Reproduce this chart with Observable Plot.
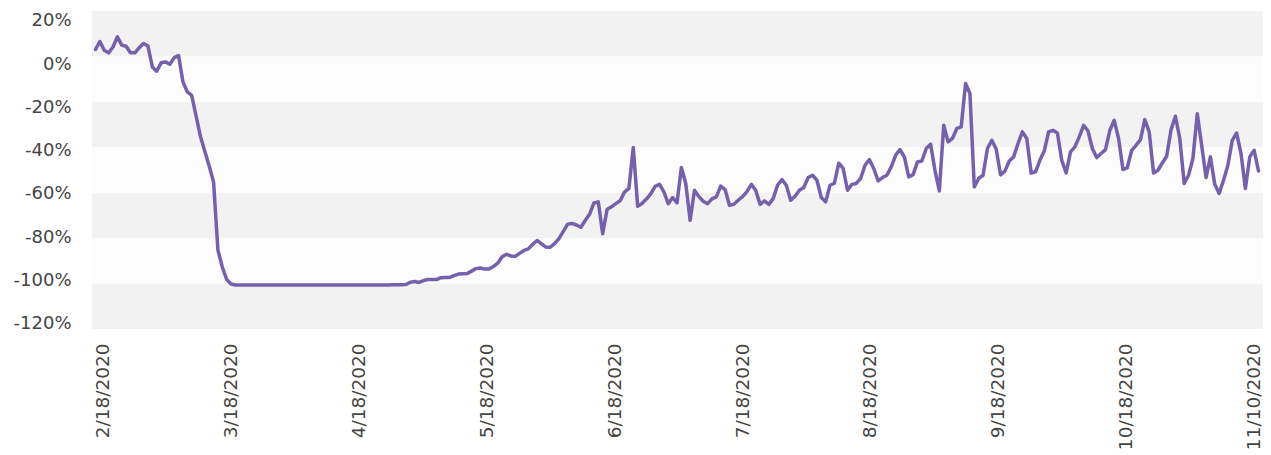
<!DOCTYPE html>
<html>
<head>
<meta charset="utf-8">
<script src="https://cdn.jsdelivr.net/npm/d3@7"></script>
<script src="https://cdn.jsdelivr.net/npm/@observablehq/plot@0.6"></script>
<style>
  html, body { margin: 0; padding: 0; background: #ffffff; }
  #chart svg { display: block; }
</style>
</head>
<body>
<div id="chart"></div>
<script>
// Daily % change, one value per day from 2/18/2020 to 11/10/2020
const change = [
  3.3, 6.8, 2.9, 1.8, 4.4, 8.8, 5.2, 4.7, 1.8, 1.8,
  4.1, 5.9, 4.8, -4.4, -6.3, -2.6, -2.2, -3.2, -0.3, 0.6,
  -11, -15.4, -16.9, -26, -35, -41.5, -48, -55, -85, -92.5,
  -98, -100,
  -100.4, -100.4, -100.4, -100.4, -100.4, -100.4, -100.4, -100.4, -100.4, -100.4,
  -100.4, -100.4, -100.4, -100.4, -100.4, -100.4, -100.4, -100.4, -100.4, -100.4,
  -100.4, -100.4, -100.4, -100.4, -100.4, -100.4, -100.4, -100.4, -100.4, -100.4,
  -100.4, -100.4, -100.4, -100.4, -100.4, -100.4, -100.3, -100.3, -100.3,
  -100.2, -99.2, -98.9, -99.3, -98.5, -98, -98, -98, -97.2, -97.1,
  -97.1, -96.3, -95.6, -95.5, -95.4, -94.3, -93.2, -92.9, -93.4, -93.4,
  -92.3, -90.8, -88, -86.9, -87.6, -87.8, -86.5, -85.2, -84.5, -82.5,
  -80.8, -82.3, -83.7, -83.8, -82.2, -80, -76.8, -73.6, -73.3, -74,
  -75, -72, -69.3, -64.3, -63.8, -77.8, -67.2, -66, -64.6, -63.3,
  -59.5, -57.9, -39.9, -65.7, -64.5, -62.6, -60.3, -57, -56.1, -59.4,
  -64.6, -61.9, -64.3, -48.7, -55.7, -71.9, -58.7, -61.5, -63.5, -64.6,
  -62.5, -61.6, -56.9, -58.4, -65.3, -64.9, -63.1, -61.5, -59.3, -56.1,
  -58.7, -64.9, -63.4, -64.9, -62.4, -56.5, -54, -56.5, -63.1, -61.3,
  -58.7, -57.5, -53.1, -52.1, -54.3, -61.9, -63.8, -56.5, -55.6, -46.8,
  -49.1, -58.7, -56.1, -55.7, -53.5, -47.7, -45.2, -49.1, -54.6, -53.1,
  -52.1, -48.4, -43.3, -40.8, -44, -52.8, -51.8, -46.2, -45.8, -40.3,
  -38.4, -49.9, -59, -30.1, -37.4, -35.9, -31.5, -30.8, -11.7, -16.1,
  -57.2, -53.5, -52.1, -40.3, -36.7, -40.5, -51.9, -50.3, -45.8, -44,
  -38.1, -33, -35.9, -51.1, -50.6, -45.5, -41.4, -33, -32.3, -33.5,
  -45.5, -51.1, -41.8, -39.6, -35.2, -30.1, -32.6, -40.3, -44.3, -42.5,
  -40.8, -32.3, -27.9, -35.9, -49.6, -48.7, -41.1, -38.9, -36.4, -27.6,
  -33, -51.1, -49.9, -46.7, -43.7, -32, -26.1, -35.9, -55.7, -52.1,
  -44.7, -25, -38.9, -53.1, -44, -56.1, -60.1, -54.3, -47.7, -36.7,
  -33.5, -42.5, -57.9, -44, -41.1, -50.2
];

// Category labels shown on the x axis (evenly spaced along the series)
const xTickLabels = [
  "2/18/2020", "3/18/2020", "4/18/2020", "5/18/2020", "6/18/2020",
  "7/18/2020", "8/18/2020", "9/18/2020", "10/18/2020", "11/10/2020"
];

// y axis tick values and labels
const yTickValues = [20, 0, -20, -40, -60, -80, -100, -120];
const yTickLabels = ["20%", "0%", "-20%", "-40%", "-60%", "-80%", "-100%", "-120%"];

// Background bands (alternating shading between gridlines)
const bandTops = [20, 0, -20, -40, -60, -80, -100];

// ---- build the chart ----
const rows = change.map((v, i) => ({ i, v }));
const n = change.length;

const bands = bandTops.map((top, k) => ({ hi: top, lo: top - 20, shade: k % 2 === 0 }));

// label positions along the category index
const xFirst = 1.8, xLast = n - 2;
const xTickPos = xTickLabels.map((_, k) => xFirst + k * (xLast - xFirst) / (xTickLabels.length - 1));
const xLabelAt = new Map(xTickPos.map((p, k) => [p, xTickLabels[k]]));

// y labels sit slightly compressed relative to the bands, as in the original
const yTickPos = yTickValues.map(v => 0.953 * v - 3.0);
const yLabelAt = new Map(yTickPos.map((p, k) => [p, yTickLabels[k]]));

const chart = Plot.plot({
  width: 1271,
  height: 455,
  marginLeft: 92,
  marginRight: 8,
  marginTop: 11,
  marginBottom: 126,
  style: { fontFamily: "DejaVu Sans, sans-serif", fontSize: "18px", color: "#444444", background: "#ffffff" },
  x: { type: "linear", domain: [0, n - 1], insetLeft: 3, insetRight: 5, label: null },
  y: { domain: [-120, 20], label: null },
  marks: [
    Plot.rect(bands.filter(d => d.shade), { y1: "lo", y2: "hi", fill: "#f2f2f2" }),
    Plot.rect(bands.filter(d => !d.shade), { y1: "lo", y2: "hi", fill: "#fcfcfc" }),
    Plot.lineY(rows, { x: "i", y: "v", stroke: "#7660ab", strokeWidth: 3.5, strokeLinejoin: "round" }),
    Plot.axisX({
      ticks: xTickPos,
      tickFormat: d => xLabelAt.get(d),
      tickRotate: -90,
      tickSize: 0,
      tickPadding: 14,
      fontSize: 18.5,
      label: null
    }),
    Plot.axisY({
      ticks: yTickPos,
      tickFormat: d => yLabelAt.get(d),
      tickSize: 0,
      tickPadding: 21,
      fontSize: 18,
      label: null
    })
  ]
});

document.getElementById("chart").appendChild(chart);
</script>
</body>
</html>
